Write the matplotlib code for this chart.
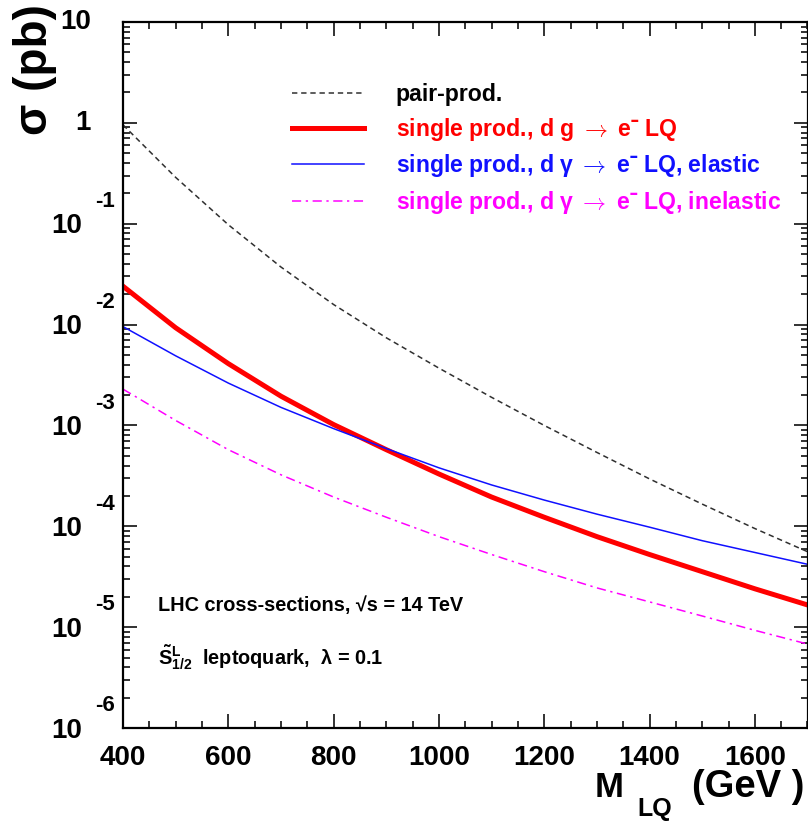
import numpy as np
import matplotlib
matplotlib.use('Agg')
import matplotlib.pyplot as plt
import matplotlib.transforms as mtransforms
from matplotlib.ticker import MultipleLocator, LogLocator, NullFormatter

# cross-sections in pb at 100 GeV steps
mass = [400, 500, 600, 700, 800, 900, 1000, 1100, 1200, 1300, 1400, 1500, 1600, 1700]
pair_prod = [0.955, 0.288, 0.0977, 0.0372, 0.0158, 7.4e-3, 3.7e-3, 1.9e-3,
             1.0e-3, 5.4e-4, 2.95e-4, 1.66e-4, 9.5e-5, 5.6e-5]
single_dg = [0.024, 9.3e-3, 4.1e-3, 1.95e-3, 1.02e-3, 5.75e-4, 3.3e-4, 1.95e-4,
             1.23e-4, 7.9e-5, 5.25e-5, 3.55e-5, 2.4e-5, 1.66e-5]
single_dgam_el = [9.55e-3, 4.9e-3, 2.63e-3, 1.51e-3, 9.3e-4, 5.9e-4, 3.8e-4, 2.57e-4,
                  1.82e-4, 1.32e-4, 9.8e-5, 7.2e-5, 5.5e-5, 4.2e-5]
single_dgam_inel = [2.29e-3, 1.12e-3, 5.75e-4, 3.24e-4, 1.95e-4, 1.23e-4, 7.9e-5, 5.25e-5,
                    3.55e-5, 2.45e-5, 1.78e-5, 1.29e-5, 9.3e-6, 6.8e-6]

legend_labels = ['pair-prod.',
                 'single prod., d g $\\rightarrow$ e\u02c9 LQ',
                 'single prod., d \u03b3 $\\rightarrow$ e\u02c9 LQ, elastic',
                 'single prod., d \u03b3 $\\rightarrow$ e\u02c9 LQ, inelastic']
legend_colors = ['black', '#ff0000', '#1010ff', '#ff00ff']
x_ticks = [400, 600, 800, 1000, 1200, 1400, 1600]
y_decades = [1, 0, -1, -2, -3, -4, -5, -6]

plt.rcParams['font.family'] = ['Liberation Sans', 'DejaVu Sans']
plt.rcParams['font.weight'] = 'bold'
plt.rcParams['mathtext.fontset'] = 'custom'
plt.rcParams['mathtext.rm'] = 'Liberation Sans:bold'
plt.rcParams['mathtext.it'] = 'Liberation Sans:bold'
plt.rcParams['mathtext.bf'] = 'Liberation Sans:bold'

fig = plt.figure(figsize=(8.08, 8.24), dpi=100)
ax = fig.add_axes([123 / 808, 96 / 824, 684.5 / 808, 706 / 824])

l1, = ax.plot(mass, pair_prod, color='#303030', lw=1.1, ls=(0, (3.5, 2.5)))
l2, = ax.plot(mass, single_dg, color='#ff0000', lw=3.6)
l3, = ax.plot(mass, single_dgam_el, color='#1010ff', lw=1.1)
l4, = ax.plot(mass, single_dgam_inel, color='#ff00ff', lw=1.1, ls=(0, (6, 3, 1.5, 3)))

ax.set_yscale('log')
ax.set_ylim(1e-6, 10)
ax.set_xlim(400, 1700)
ax.xaxis.set_major_locator(MultipleLocator(200))
ax.xaxis.set_minor_locator(MultipleLocator(50))
ax.yaxis.set_major_locator(LogLocator(base=10))
ax.yaxis.set_minor_locator(LogLocator(base=10, subs=np.arange(2, 10)))
ax.yaxis.set_major_formatter(NullFormatter())
ax.yaxis.set_minor_formatter(NullFormatter())
ax.set_xticks(x_ticks)
ax.set_xticklabels([str(v) for v in x_ticks], fontsize=20, fontweight='bold')
ax.tick_params(which='both', direction='in', top=True, right=True, width=1.3, color='#222222')
ax.tick_params(which='major', length=10, pad=12)
ax.tick_params(which='minor', length=5)
for sp in ax.spines.values():
    sp.set_linewidth(1.6)

# ROOT-style decade labels: "10" with the exponent raised to its right
ytr = ax.get_yaxis_transform()
for e in y_decades:
    if e in (0, 1):
        ax.text(-0.047, 10.0 ** e, '1' if e == 0 else '10', transform=ytr,
                ha='right', va='center', fontsize=20, fontweight='bold')
    else:
        off = mtransforms.offset_copy(ytr, fig=fig, x=0, y=-2, units='points')
        ax.text(-0.060, 10.0 ** e, '10', transform=off,
                ha='right', va='center', fontsize=20, fontweight='bold')
        off2 = mtransforms.offset_copy(ytr, fig=fig, x=0, y=16, units='points')
        ax.text(-0.041, 10.0 ** e, str(e), transform=off2,
                ha='left', va='center', fontsize=16, fontweight='bold')

fig.text(35 / 808, 1 - 70 / 824, '\u03c3 (pb)', rotation=90, ha='center', va='center',
         fontsize=33, fontweight='bold')

# axis title M_LQ (GeV), subscript set lower as in the original
fig.text(595 / 808, 1 - 797 / 824, 'M', ha='left', va='baseline', fontsize=25, fontweight='bold')
fig.text(637 / 808, 1 - 816 / 824, 'LQ', ha='left', va='baseline', fontsize=18, fontweight='bold')
fig.text(804 / 808, 1 - 797 / 824, '(GeV )', ha='right', va='baseline', fontsize=27.5,
         fontweight='bold')

ax.legend([l1, l2, l3, l4], legend_labels, loc='upper left', bbox_to_anchor=(0.247, 0.9135),
          frameon=False, handlelength=3.1, handletextpad=1.4, labelspacing=0.42,
          borderpad=0, borderaxespad=0,
          prop={'family': ['Liberation Sans', 'DejaVu Sans'], 'weight': 'bold', 'size': 16.6,
                'math_fontfamily': 'cm'},
          labelcolor=legend_colors)

ax.text(0.051, 0.173, 'LHC cross-sections, \u221as = 14 TeV', transform=ax.transAxes,
        ha='left', va='center', fontsize=14.3, fontweight='bold')
ax.text(0.051, 0.100, r'$\tilde{\mathrm{S}}^{\mathrm{L}}_{1/2}$  leptoquark,  $\lambda$ = 0.1',
        transform=ax.transAxes, ha='left', va='center', fontsize=14.3, fontweight='bold')

fig.savefig('out.png', dpi=100)
